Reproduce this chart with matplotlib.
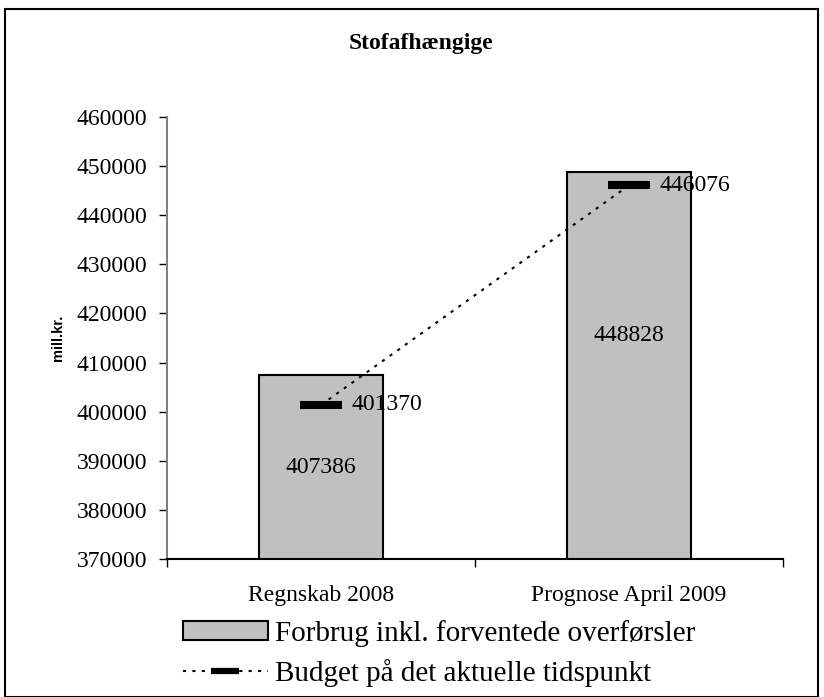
import matplotlib
matplotlib.use("Agg")
import matplotlib.pyplot as plt
from matplotlib.patches import Rectangle, Patch
from matplotlib.lines import Line2D

plt.rcParams['font.family'] = ['Liberation Serif', 'DejaVu Serif']

title = "Stofafhængige"
categories = ["Regnskab 2008", "Prognose April 2009"]
forbrug = [407386, 448828]
budget = [401370, 446076]
yticks = [370000, 380000, 390000, 400000, 410000, 420000, 430000, 440000, 450000, 460000]
series_names = ["Forbrug inkl. forventede overførsler", "Budget på det aktuelle tidspunkt"]
ylabel = "mill.kr."

fig = plt.figure(figsize=(8.24, 6.97), dpi=100)
ax = fig.add_axes([167/824, 1-559/697, (783-167)/824, (559-117)/697])

x = list(range(len(categories)))
ax.bar(x, forbrug, width=0.4, color="#C0C0C0", edgecolor="black", linewidth=1.5, zorder=2)
ax.plot(x, budget, linestyle=(0, (1.5, 3)), color="black", linewidth=1.5,
        marker="_", markersize=30, markeredgewidth=5.8, zorder=3)

ax.set_xlim(-0.5, 1.5)
ax.set_ylim(yticks[0], yticks[-1])
ax.set_yticks(yticks)
ax.set_yticklabels([str(v) for v in yticks], fontsize=17)
ax.set_xticks(x)
ax.set_xticklabels(categories, fontsize=17)
ax.tick_params(axis='x', which='major', length=0, pad=19)
ax.set_xticks([-0.5, 0.5, 1.5], minor=True)
ax.tick_params(axis='x', which='minor', length=6, direction='out', width=1)
ax.tick_params(axis='y', length=6, direction='out', width=1, pad=8)

for s in ['top', 'right']:
    ax.spines[s].set_visible(False)
ax.spines['left'].set_color("#808080")
ax.spines['left'].set_linewidth(1.5)
ax.spines['bottom'].set_linewidth(1.5)

# value labels
for xi, v in zip(x, forbrug):
    ypos = (yticks[0] + v) / 2 if xi == 0 else 415500
    ax.text(xi, ypos, str(v), ha='center', va='center', fontsize=17, zorder=4)
for xi, v in zip(x, budget):
    ax.text(xi + 0.1, v, str(v), ha='left', va='center', fontsize=17, zorder=4)

ax.set_ylabel(ylabel, fontsize=10.5, fontweight='bold', family='Liberation Sans')
ax.yaxis.set_label_coords(-0.165, 0.5)

fig.text(421/824, 1-43/697, title, ha='center', va='center', fontsize=17, fontweight='bold')

# legend
h1 = Patch(facecolor="#C0C0C0", edgecolor="black", linewidth=1.5)
h2 = Line2D([0], [0], linestyle=(0, (1.5, 3)), color="black", linewidth=1.5,
            marker="_", markersize=20, markeredgewidth=4.5)
fig.legend([h1, h2], series_names, loc='upper left', bbox_to_anchor=(183/824, 1-620/697),
           frameon=False, fontsize=21, handlelength=2.9, handleheight=0.65,
           handletextpad=0.27, labelspacing=0.42, borderaxespad=0, borderpad=0)

fig.patches.append(Rectangle((5/824, 0.0), 813/824, 1-9/697, transform=fig.transFigure,
                             fill=False, edgecolor='black', linewidth=1.5))

fig.savefig("out.png", dpi=100)
